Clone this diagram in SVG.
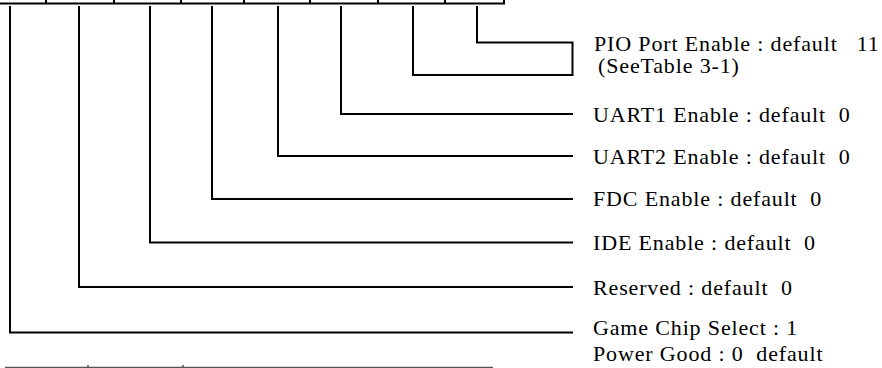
<svg xmlns="http://www.w3.org/2000/svg" width="882" height="368" viewBox="0 0 882 368">
<style>
.ln{fill:none;stroke:#000;stroke-width:2;stroke-linecap:square}
.t{font-family:"Liberation Serif","Times New Roman",serif;font-size:22px;letter-spacing:0.85px;fill:#000;white-space:pre}
</style>
<rect width="882" height="368" fill="#fff"/>
<g id="register">
<path class="ln" d="M0,3.5 H504 M46,0 V3.5 M114,0 V3.5 M181,0 V3.5 M244,0 V3.5 M310,0 V3.5 M378,0 V3.5 M445,0 V3.5 M504,0 V3.5"/>
</g>
<g id="connectors">
<path class="ln" d="M477,7 V42.5 H572.5 V75 H413 V7"/>
<path class="ln" d="M341,7 V114 H572"/>
<path class="ln" d="M278,7 V156 H572"/>
<path class="ln" d="M212,7 V199 H572"/>
<path class="ln" d="M150,7 V242.5 H572"/>
<path class="ln" d="M79,7 V287 H572"/>
<path class="ln" d="M10,7 V332.5 H572"/>
</g>
<g id="label-pio"><text class="t" x="594" y="51" xml:space="preserve">PIO Port Enable : default   11</text><text class="t" x="598" y="73">(SeeTable 3-1)</text></g>
<g id="label-uart1"><text class="t" x="593" y="121.5" xml:space="preserve">UART1 Enable : default  0</text></g>
<g id="label-uart2"><text class="t" x="593" y="163.5" xml:space="preserve">UART2 Enable : default  0</text></g>
<g id="label-fdc"><text class="t" x="593" y="206" xml:space="preserve">FDC Enable : default  0</text></g>
<g id="label-ide"><text class="t" x="593" y="250" xml:space="preserve">IDE Enable : default  0</text></g>
<g id="label-reserved"><text class="t" x="593" y="295" xml:space="preserve">Reserved : default  0</text></g>
<g id="label-game"><text class="t" x="593" y="335">Game Chip Select : 1</text><text class="t" x="593" y="361" xml:space="preserve">Power Good : 0  default</text></g>
<g id="bottom-table">
<path d="M5,367.5 H493 M88,365 V368 M183,365 V368" fill="none" stroke="#555" stroke-width="1.5"/>
</g>
</svg>
